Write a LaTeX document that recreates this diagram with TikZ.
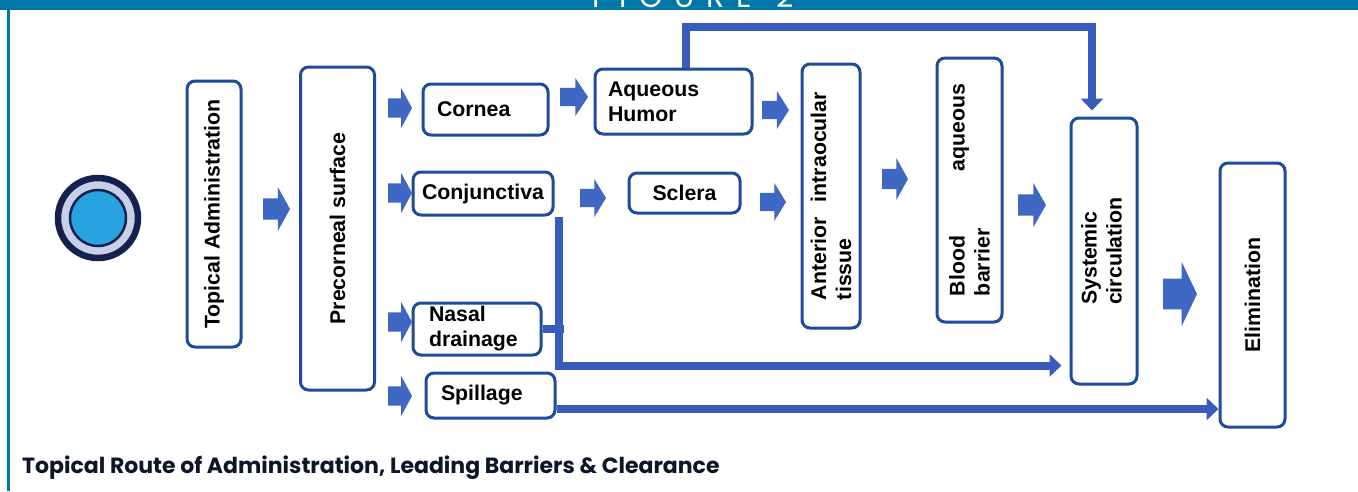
\documentclass[tikz,border=0pt]{standalone}
\usepackage{fontspec}
\setmainfont{Liberation Sans}
\newfontfamily\capfont{Poppins}
\usetikzlibrary{arrows.meta}
\definecolor{band}{RGB}{0,119,168}
\definecolor{boxc}{RGB}{30,75,155}
\definecolor{arrc}{RGB}{62,104,196}
\definecolor{lnc}{RGB}{55,92,188}
\definecolor{navy}{RGB}{22,32,78}
\definecolor{ringc}{RGB}{200,208,232}
\definecolor{innerc}{RGB}{41,163,224}
\definecolor{capc}{RGB}{12,22,40}
\tikzset{
  barr/.pic={\fill[arrc] (-0.5,-0.24) -- (0.05,-0.24) -- (0.05,-0.5) -- (0.5,0) -- (0.05,0.5) -- (0.05,0.24) -- (-0.5,0.24) -- cycle;},
  bx/.style={draw=boxc, line width=3pt, rounded corners=8pt, fill=white, inner sep=0pt,
    font=\fontsize{21.3}{25}\selectfont\bfseries},
  conn/.style={draw=lnc, line width=8pt, -{Triangle[length=12pt,width=22pt]}},
  stub/.style={draw=lnc, line width=8pt}
}
\begin{document}
\begin{tikzpicture}[x=1pt,y=-1pt]
\useasboundingbox (0,0) rectangle (1358,491);
\fill[white] (0,0) rectangle (1358,491);
\fill[band] (0,0) rectangle (1358,9.5);
\draw[band, line width=2.2pt] (8.5,0) -- (8.5,491);
\begin{scope}
\clip (0,0) rectangle (1358,9.5);
\node[anchor=base, text=white, inner sep=0pt, font=\capfont\fontsize{30}{30}\selectfont] (fig) at (693,7.5)
  {F\hspace{12pt}I\hspace{12pt}G\hspace{12pt}U\hspace{12pt}R\hspace{12pt}E\hspace{24pt}2};
\end{scope}

% source circle
\node[circle, draw=navy, line width=6.5pt, fill=ringc, minimum size=80pt, inner sep=0pt] (src) at (98,218) {};
\node[circle, draw=navy, line width=2.5pt, fill=innerc, minimum size=56pt, inner sep=0pt] (srcin) at (src) {};

% boxes
\node[bx, minimum width=54pt, minimum height=266pt] (ta) at (214,214) {\rotatebox{90}{Topical Administration}};
\node[bx, minimum width=74pt, minimum height=323pt] (pre) at (337.5,228.5) {\rotatebox{90}{Precorneal surface}};
\node[bx, minimum width=125pt, minimum height=51pt, text width=97pt, align=left] (cornea) at (485.5,109.5) {Cornea};
\node[bx, minimum width=157pt, minimum height=65pt, text width=131pt, align=left] (aqueous) at (673.5,101.5) {Aqueous\\Humor};
\node[bx, minimum width=140pt, minimum height=43pt] (conj) at (483,193.5) {Conjunctiva};
\node[bx, minimum width=111pt, minimum height=40pt] (sclera) at (684.5,193) {Sclera};
\node[bx, minimum width=128pt, minimum height=52pt, text width=96pt, align=left] (nasal) at (477,329) {Nasal\\drainage};
\node[bx, minimum width=129pt, minimum height=45pt, text width=99pt, align=left] (spill) at (490.5,395.5) {Spillage};
\node[bx, minimum width=58pt, minimum height=264pt] (ant) at (831,196) {\rotatebox{90}{\parbox{208pt}{Anterior\hfill intraocular\\tissue}}};
\node[bx, minimum width=65pt, minimum height=264pt] (blood) at (969.5,190) {\rotatebox{90}{\parbox{212pt}{Blood\hfill aqueous\\barrier}}};
\node[bx, minimum width=66pt, minimum height=266pt] (sys) at (1104,251) {\rotatebox{90}{\begin{tabular}{@{}l@{}}Systemic\\circulation\end{tabular}}};
\node[bx, minimum width=65pt, minimum height=264pt] (elim) at (1252.5,295) {\rotatebox{90}{Elimination}};

% block arrows
\pic[xscale=27,yscale=44] at (276.5,209) {barr};
\pic[xscale=24,yscale=40] at (400,108) {barr};
\pic[xscale=24,yscale=40] at (400,193) {barr};
\pic[xscale=24,yscale=40] at (400,322) {barr};
\pic[xscale=24,yscale=40] at (400,396) {barr};
\pic[xscale=28,yscale=38] at (574,97) {barr};
\pic[xscale=26,yscale=38] at (593,198) {barr};
\pic[xscale=27,yscale=38] at (775.5,110) {barr};
\pic[xscale=26,yscale=38] at (773,202) {barr};
\pic[xscale=26,yscale=42] at (895,179) {barr};
\pic[xscale=28,yscale=44] at (1032,205) {barr};
\pic[xscale=34,yscale=64] at (1180,294) {barr};

% connectors
\draw[conn, shorten >=6pt] ([xshift=12.5pt]aqueous.north) -- ++(0,-41) -| ([xshift=-12pt]sys.north);
\draw[conn, shorten >=8pt] ([xshift=4pt]conj.south east) |- ([yshift=20pt]sys.south west);
\draw[stub] (nasal.east) -- ++(21,0);
\draw[conn] ([yshift=-13.5pt]spill.east) -- ([yshift=-13.5pt]spill.east -| elim.west);

% caption
\node[anchor=base west, inner sep=0pt, text=capc, font=\capfont\bfseries\fontsize{22}{26}\selectfont] (cap) at (22,473)
  {Topical Route of Administration, Leading Barriers \& Clearance};
\end{tikzpicture}
\end{document}
